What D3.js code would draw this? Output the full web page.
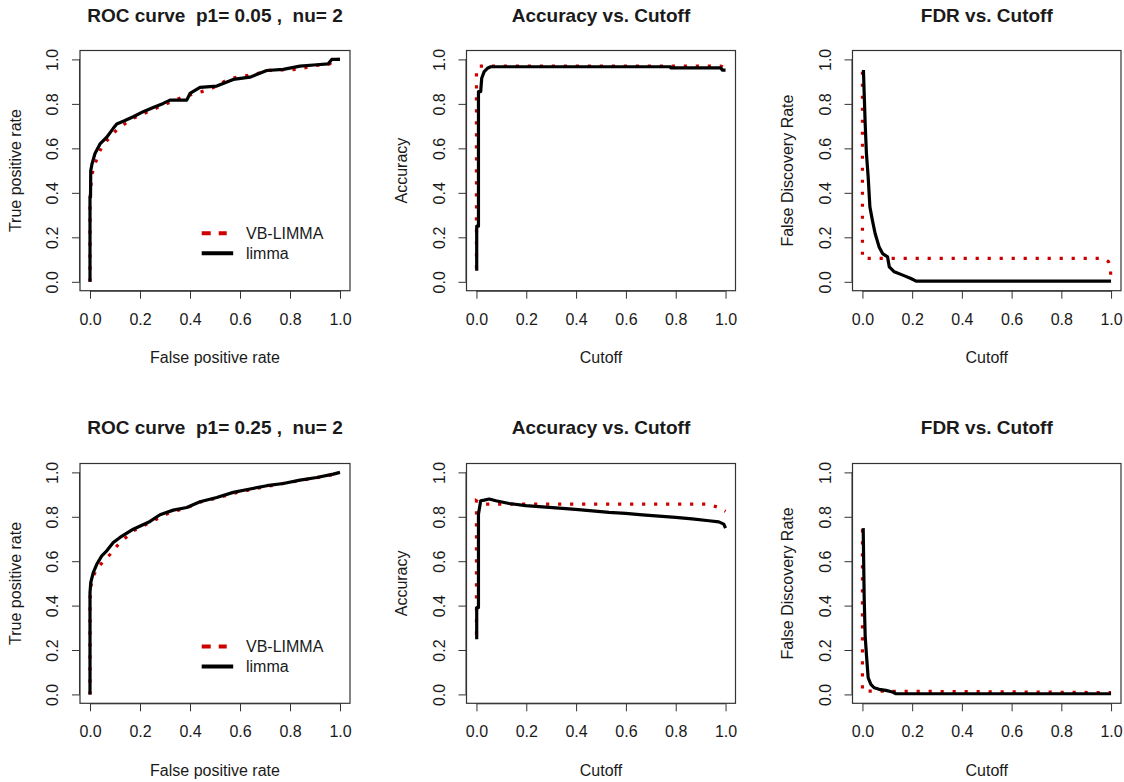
<!DOCTYPE html>
<html>
<head>
<meta charset="utf-8">
<script src="https://cdn.jsdelivr.net/npm/d3@7"></script>
<style>
  html, body { margin: 0; padding: 0; background: #ffffff; }
  svg { display: block; }
  text { font-family: "Liberation Sans", Arial, sans-serif; fill: #1a1a1a; white-space: pre; }
</style>
</head>
<body>
<svg id="chart" width="1124" height="782"></svg>
<script>
// ---------------- data ----------------
const tickValues = [0, 0.2, 0.4, 0.6, 0.8, 1.0];
const tickLabels = ["0.0", "0.2", "0.4", "0.6", "0.8", "1.0"];
const legendLabels = ["VB-LIMMA", "limma"];

// Row 1 (p1 = 0.05) ROC
const roc1LimmaFpr = [0, 0, 0.002, 0.003, 0.008, 0.02, 0.04, 0.067, 0.093, 0.107, 0.14, 0.173, 0.213, 0.253, 0.293, 0.32, 0.387, 0.40, 0.44, 0.507, 0.573, 0.64, 0.707, 0.773, 0.84, 0.907, 0.953, 0.967, 1];
const roc1LimmaTpr = [0, 0.38, 0.38, 0.50, 0.53, 0.577, 0.62, 0.65, 0.69, 0.71, 0.725, 0.742, 0.765, 0.784, 0.802, 0.817, 0.817, 0.847, 0.874, 0.88, 0.91, 0.92, 0.95, 0.955, 0.97, 0.976, 0.98, 1.0, 1.0];
const roc1VbFpr = [0, 0, 0.007, 0.02, 0.033, 0.047, 0.087, 0.113, 0.173, 0.2, 0.233, 0.293, 0.373, 0.447, 0.48, 0.547, 0.587, 0.667, 0.707, 0.827, 0.9, 0.96, 0.97, 1];
const roc1VbTpr = [0, 0.375, 0.48, 0.53, 0.57, 0.607, 0.66, 0.69, 0.735, 0.75, 0.765, 0.795, 0.832, 0.855, 0.865, 0.907, 0.92, 0.935, 0.95, 0.955, 0.972, 0.98, 1.0, 1.0];

// Row 1 Accuracy
const acc1LimmaCut = [0.001, 0.001, 0.008, 0.008, 0.017, 0.021, 0.031, 0.044, 0.057, 0.78, 0.78, 0.98, 0.987, 1];
const acc1LimmaAcc = [0.05, 0.25, 0.25, 0.855, 0.855, 0.915, 0.945, 0.96, 0.967, 0.967, 0.962, 0.962, 0.952, 0.952];
const acc1VbCut = [0, 0, 0.004, 0.012, 0.98, 0.99, 1];
const acc1VbAcc = [0.06, 0.945, 0.965, 0.97, 0.97, 0.965, 0.952];

// Row 1 FDR
const fdr1LimmaCut = [0.004, 0.007, 0.011, 0.016, 0.023, 0.03, 0.04, 0.051, 0.067, 0.081, 0.101, 0.108, 0.128, 0.162, 0.195, 0.216, 1];
const fdr1LimmaFdr = [0.952, 0.847, 0.712, 0.577, 0.472, 0.337, 0.277, 0.217, 0.157, 0.127, 0.112, 0.067, 0.045, 0.03, 0.015, 0.003, 0.003];
const fdr1VbCut = [0, 0, 0.97, 0.99, 0.997, 1];
const fdr1VbFdr = [0.945, 0.105, 0.105, 0.09, 0.067, 0.0];

// Row 2 (p1 = 0.25) ROC
const roc2LimmaFpr = [0, 0, 0.003, 0.013, 0.027, 0.047, 0.067, 0.093, 0.12, 0.173, 0.24, 0.28, 0.333, 0.387, 0.44, 0.507, 0.573, 0.64, 0.707, 0.773, 0.84, 0.907, 0.973, 1];
const roc2LimmaTpr = [0, 0.459, 0.504, 0.549, 0.586, 0.624, 0.647, 0.684, 0.707, 0.744, 0.779, 0.809, 0.83, 0.842, 0.868, 0.887, 0.91, 0.925, 0.94, 0.95, 0.965, 0.977, 0.992, 1.0];
const roc2VbFpr = [0, 0, 0.007, 0.027, 0.053, 0.08, 0.113, 0.173, 0.227, 0.267, 0.32, 0.387, 0.44, 0.507, 0.573, 0.64, 0.707, 0.773, 0.84, 0.907, 0.973, 1];
const roc2VbTpr = [0, 0.43, 0.52, 0.564, 0.6, 0.63, 0.675, 0.737, 0.767, 0.79, 0.82, 0.84, 0.866, 0.884, 0.905, 0.922, 0.937, 0.95, 0.963, 0.976, 0.99, 1.0];

// Row 2 Accuracy
const acc2LimmaCut = [0.001, 0.001, 0.008, 0.008, 0.017, 0.031, 0.051, 0.078, 0.131, 0.198, 0.265, 0.332, 0.398, 0.465, 0.532, 0.599, 0.666, 0.733, 0.799, 0.866, 0.933, 0.973, 0.993, 1];
const acc2LimmaAcc = [0.248, 0.391, 0.391, 0.812, 0.872, 0.875, 0.88, 0.872, 0.86, 0.85, 0.845, 0.839, 0.833, 0.827, 0.82, 0.815, 0.809, 0.803, 0.797, 0.791, 0.782, 0.777, 0.767, 0.749];
const acc2VbCut = [0, 0, 0.011, 0.03, 0.93, 0.973, 1];
const acc2VbAcc = [0.27, 0.872, 0.865, 0.857, 0.857, 0.842, 0.824];

// Row 2 FDR
const fdr2LimmaCut = [0.003, 0.007, 0.011, 0.016, 0.023, 0.034, 0.047, 0.067, 0.094, 0.121, 0.135, 1];
const fdr2LimmaFdr = [0.749, 0.436, 0.263, 0.18, 0.075, 0.045, 0.03, 0.023, 0.018, 0.011, 0.003, 0.003];
const fdr2VbCut = [0, 0, 0.5, 1];
const fdr2VbFdr = [0.744, 0.015, 0.012, 0.008];

// ---------------- layout ----------------
const svg = d3.select("#chart");
const colBox = [[80, 350], [466.5, 735.5], [852.5, 1121]];
const rowBox = [[50.5, 290.7], [463.5, 703.3]];
const RED = "#cd0000";

const zip = (xs, ys) => xs.map((x, i) => [x, ys[i]]);

const panels = [
  { r: 0, c: 0, title: "ROC curve  p1= 0.05 ,  nu= 2", xl: "False positive rate", yl: "True positive rate",
    vb: zip(roc1VbFpr, roc1VbTpr), lm: zip(roc1LimmaFpr, roc1LimmaTpr), legend: true },
  { r: 0, c: 1, title: "Accuracy vs. Cutoff", xl: "Cutoff", yl: "Accuracy",
    vb: zip(acc1VbCut, acc1VbAcc), lm: zip(acc1LimmaCut, acc1LimmaAcc) },
  { r: 0, c: 2, title: "FDR vs. Cutoff", xl: "Cutoff", yl: "False Discovery Rate",
    vb: zip(fdr1VbCut, fdr1VbFdr), lm: zip(fdr1LimmaCut, fdr1LimmaFdr) },
  { r: 1, c: 0, title: "ROC curve  p1= 0.25 ,  nu= 2", xl: "False positive rate", yl: "True positive rate",
    vb: zip(roc2VbFpr, roc2VbTpr), lm: zip(roc2LimmaFpr, roc2LimmaTpr), legend: true },
  { r: 1, c: 1, title: "Accuracy vs. Cutoff", xl: "Cutoff", yl: "Accuracy",
    vb: zip(acc2VbCut, acc2VbAcc), lm: zip(acc2LimmaCut, acc2LimmaAcc) },
  { r: 1, c: 2, title: "FDR vs. Cutoff", xl: "Cutoff", yl: "False Discovery Rate",
    vb: zip(fdr2VbCut, fdr2VbFdr), lm: zip(fdr2LimmaCut, fdr2LimmaFdr) },
];

panels.forEach(p => {
  const [L, R] = colBox[p.c];
  const [T, B] = rowBox[p.r];
  const x = d3.scaleLinear().domain([-0.04, 1.04]).range([L, R]);
  const y = d3.scaleLinear().domain([-0.04, 1.04]).range([B, T]);
  const g = svg.append("g");

  // curves: VB-LIMMA (red dotted) underneath, limma (black) on top
  const line = d3.line().x(d => x(d[0])).y(d => y(d[1]));
  g.append("path").attr("d", line(p.vb)).attr("fill", "none")
    .attr("stroke", RED).attr("stroke-width", 3.2).attr("stroke-dasharray", "3.2,8.8");
  g.append("path").attr("d", line(p.lm)).attr("fill", "none")
    .attr("stroke", "#000").attr("stroke-width", 3.2).attr("stroke-linejoin", "round");

  // box
  g.append("rect").attr("x", L).attr("y", T).attr("width", R - L).attr("height", B - T)
    .attr("fill", "none").attr("stroke", "#333").attr("stroke-width", 1.2);

  // axes
  const xAxis = d3.axisBottom(x).tickValues(tickValues).tickSize(8).tickPadding(20)
    .tickFormat((d, i) => tickLabels[i]);
  const gx = g.append("g").attr("transform", `translate(0,${B})`).call(xAxis);
  gx.select(".domain").attr("d", `M${x(0)},0.5H${x(1)}`).attr("stroke", "#333");
  gx.selectAll(".tick line").attr("stroke", "#333");
  gx.selectAll(".tick text").style("font-size", "16px").attr("dy", "0.32em").attr("y", 29).attr("fill", "#1a1a1a");

  const yAxis = d3.axisLeft(y).tickValues(tickValues).tickSize(8)
    .tickFormat((d, i) => tickLabels[i]);
  const gy = g.append("g").attr("transform", `translate(${L},0)`).call(yAxis);
  gy.select(".domain").attr("d", `M-0.5,${y(0)}V${y(1)}`).attr("stroke", "#333");
  gy.selectAll(".tick line").attr("stroke", "#333");
  gy.selectAll(".tick text")
    .attr("x", null).attr("dy", null)
    .attr("transform", "translate(-27.5,0) rotate(-90)")
    .attr("text-anchor", "middle").attr("dominant-baseline", "central")
    .style("font-size", "16px").attr("fill", "#1a1a1a");

  // titles
  g.append("text").attr("x", (L + R) / 2).attr("y", (p.r === 0 ? 15 : 427.7))
    .attr("text-anchor", "middle").attr("dominant-baseline", "central")
    .style("font-size", "19px").style("font-weight", "bold").text(p.title);
  g.append("text").attr("x", (L + R) / 2).attr("y", B + 67)
    .attr("text-anchor", "middle").attr("dominant-baseline", "central")
    .style("font-size", "16px").text(p.xl);
  g.append("text").attr("transform", `translate(${L - 65},${(T + B) / 2}) rotate(-90)`)
    .attr("text-anchor", "middle").attr("dominant-baseline", "central")
    .style("font-size", "16px").text(p.yl);

  if (p.legend) {
    const ly = p.r === 0 ? 233.3 : 646.5;
    const lx0 = L + 121.7, lxText = L + 166;
    g.append("line").attr("x1", lx0).attr("x2", lx0 + 25).attr("y1", ly).attr("y2", ly)
      .attr("stroke", RED).attr("stroke-width", 4).attr("stroke-dasharray", "9,8");
    g.append("line").attr("x1", lx0).attr("x2", lx0 + 31.5).attr("y1", ly + 20).attr("y2", ly + 20)
      .attr("stroke", "#000").attr("stroke-width", 4);
    g.append("text").attr("x", lxText).attr("y", ly).attr("dominant-baseline", "central")
      .style("font-size", "16px").text(legendLabels[0]);
    g.append("text").attr("x", lxText).attr("y", ly + 20).attr("dominant-baseline", "central")
      .style("font-size", "16px").text(legendLabels[1]);
  }
});
</script>
</body>
</html>
